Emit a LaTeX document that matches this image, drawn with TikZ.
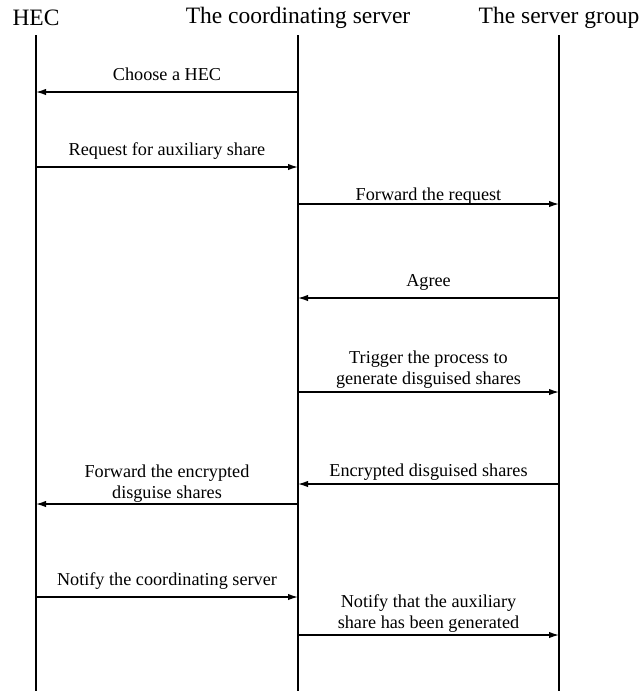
\documentclass[tikz,border=0pt]{standalone}
\usepackage{fontspec}
\setmainfont{Liberation Serif}
\usepackage{tikz}
\usetikzlibrary{positioning,arrows.meta}

\begin{document}
\begin{tikzpicture}[x=0.5pt,y=-0.5pt,
        life/.style={line width=1pt},
        msg/.style={-{Latex[length=5pt,width=3.2pt]},line width=0.65pt},
        head/.style={font=\fontsize{11.75}{13}\selectfont},
        lbl/.style={font=\fontsize{9.1}{10.5}\selectfont,align=center,anchor=base,inner sep=0pt}]
        \useasboundingbox (0,0) rectangle (643,691);
        % participants
        \node[head] (hec) at (36,18) {HEC};
        \node[head] (cs) at (298,18) {The coordinating server};
        \node[head] (sg) at (559,18) {The server group};
        \draw[life] (36,35) -- (36,691);
        \draw[life] (298,35) -- (298,691);
        \draw[life] (559,35) -- (559,691);
        % message end points
        \coordinate (h1) at (36,92);   \coordinate (c1) at (298,92);
        \coordinate (h2) at (36,167);  \coordinate (c2) at (298,167);
        \coordinate (c3) at (298,204); \coordinate (s3) at (559,204);
        \coordinate (c4) at (298,298); \coordinate (s4) at (559,298);
        \coordinate (c5) at (298,392); \coordinate (s5) at (559,392);
        \coordinate (c6) at (298,484); \coordinate (s6) at (559,484);
        \coordinate (h7) at (36,504);  \coordinate (c7) at (298,504);
        \coordinate (h8) at (36,597);  \coordinate (c8) at (298,597);
        \coordinate (c9) at (298,635); \coordinate (s9) at (559,635);
        % messages
        \draw[msg] (c1) -- (h1);
        \draw[msg] (h2) -- (c2);
        \draw[msg] (c3) -- (s3);
        \draw[msg] (s4) -- (c4);
        \draw[msg] (c5) -- (s5);
        \draw[msg] (s6) -- (c6);
        \draw[msg] (c7) -- (h7);
        \draw[msg] (h8) -- (c8);
        \draw[msg] (c9) -- (s9);
        % labels (base = last line)
        \node[lbl] (l1) at (167,80) {Choose a HEC};
        \node[lbl] (l2) at (167,155) {Request for auxiliary share};
        \node[lbl] (l3) at (428.5,200) {Forward the request};
        \node[lbl] (l4) at (428.5,286) {Agree};
        \node[lbl] (l5) at (428.5,384) {Trigger the process to\\generate disguised shares};
        \node[lbl] (l6) at (428.5,476) {Encrypted disguised shares};
        \node[lbl] (l7) at (167,498) {Forward the encrypted\\disguise shares};
        \node[lbl] (l8) at (167,585) {Notify the coordinating server};
        \node[lbl] (l9) at (428.5,628) {Notify that the auxiliary\\share has been generated};
    \end{tikzpicture}
\end{document}
